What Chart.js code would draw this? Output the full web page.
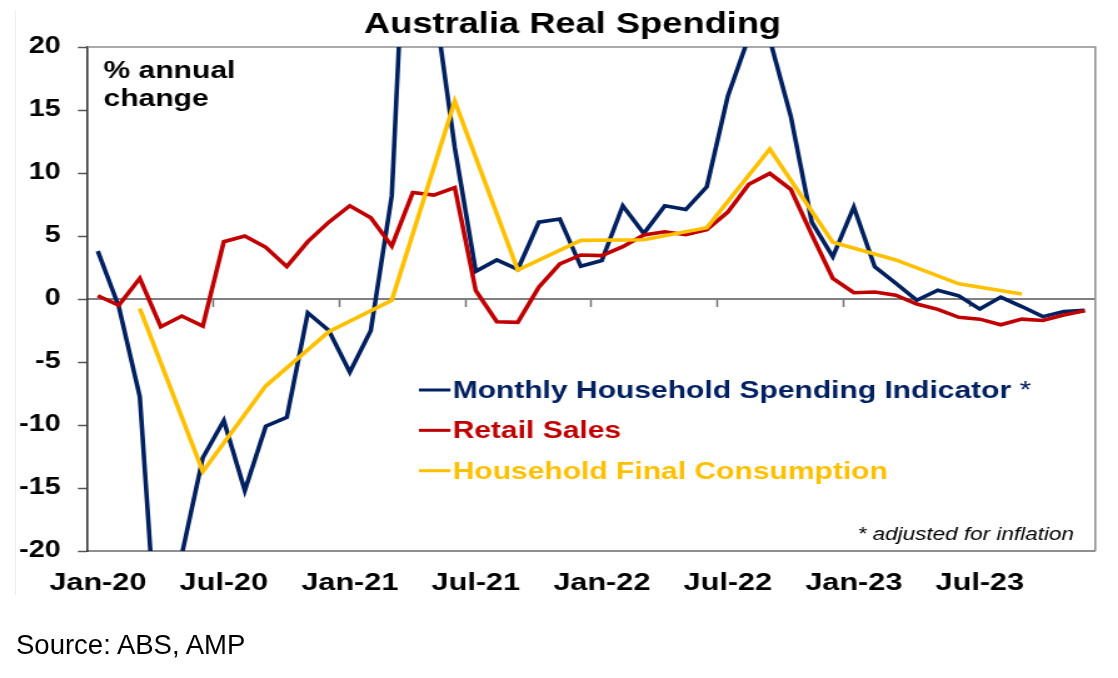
<!doctype html>
<html>

<head>
    <meta charset="utf-8">
    <title>Australia Real Spending</title>
    <script src="https://cdn.jsdelivr.net/npm/chart.js"></script>
    <style>
        html, body { margin: 0; padding: 0; background: #fff; }
        body { width: 1118px; height: 678px; position: relative; overflow: hidden; font-family: "Liberation Sans", Arial, sans-serif; }
        /* the reference is a horizontally stretched image, so the canvas is stretched the same way */
        #grafico { position: absolute; left: 0; top: 0; transform-origin: 0 0; transform: scaleX(1.2506); }
        #borda { position: absolute; left: 15px; top: 10px; height: 585px; border-left: 1px solid #eeeeee; }
        #fonte { position: absolute; left: 16px; top: 631px; font-size: 27.5px; line-height: 1; color: #000; }
    </style>
</head>

<body>

    <canvas id="grafico" width="894" height="678"></canvas>
    <div id="borda"></div>
    <div id="fonte">Source: ABS, AMP</div>

    <script>
        var months = [
            'Jan-20', 'Feb-20', 'Mar-20', 'Apr-20', 'May-20', 'Jun-20', 'Jul-20', 'Aug-20', 'Sep-20', 'Oct-20', 'Nov-20', 'Dec-20',
            'Jan-21', 'Feb-21', 'Mar-21', 'Apr-21', 'May-21', 'Jun-21', 'Jul-21', 'Aug-21', 'Sep-21', 'Oct-21', 'Nov-21', 'Dec-21',
            'Jan-22', 'Feb-22', 'Mar-22', 'Apr-22', 'May-22', 'Jun-22', 'Jul-22', 'Aug-22', 'Sep-22', 'Oct-22', 'Nov-22', 'Dec-22',
            'Jan-23', 'Feb-23', 'Mar-23', 'Apr-23', 'May-23', 'Jun-23', 'Jul-23', 'Aug-23', 'Sep-23', 'Oct-23', 'Nov-23', 'Dec-23'
        ];
        var axisLabels = ['Jan-20', 'Jul-20', 'Jan-21', 'Jul-21', 'Jan-22', 'Jul-22', 'Jan-23', 'Jul-23'];

        // % annual change
        var spendingIndicator = [
            3.8, -0.6, -7.75, -32, -20.3, -12.6, -9.65, -15.2, -10.1, -9.4, -1.1, -2.5,
            -5.8, -2.5, 8.2, 43.5, 24, 12, 2.2, 3.1, 2.35, 6.1, 6.35, 2.6,
            3.05, 7.4, 5.2, 7.4, 7.1, 8.9, 16.1, 20.8, 20.6, 14.5, 6.1, 3.35,
            7.3, 2.55, 1.25, -0.1, 0.7, 0.25, -0.8, 0.15, -0.6, -1.4, -1.0, -0.9
        ];
        var retailSales = [
            0.26, -0.5, 1.64, -2.2, -1.35, -2.15, 4.55, 5.0, 4.1, 2.57, 4.55, 6.1,
            7.4, 6.45, 4.2, 8.45, 8.25, 8.85, 0.66, -1.8, -1.85, 0.93, 2.78, 3.49,
            3.44, 4.15, 5.08, 5.34, 5.1, 5.5, 6.9, 9.1, 9.97, 8.7, 5.1, 1.64,
            0.5, 0.56, 0.3, -0.4, -0.82, -1.45, -1.6, -2.05, -1.6, -1.7, -1.27, -0.93
        ];
        // quarterly, placed on the last month of each quarter
        var finalConsumption = [
            null, null, -0.75, null, null, -13.7, null, null, -6.9, null, null, -2.6,
            null, null, -0.1, null, null, 15.7, null, null, 2.3, null, null, 4.65,
            null, null, 4.7, null, null, 5.66, null, null, 11.9, null, null, 4.5,
            null, null, 3.1, null, null, 1.2, null, null, 0.4, null, null, null
        ];

        var fonte = '"Liberation Sans", Arial, sans-serif';

        var moldura = {
            id: 'moldura',
            beforeDatasetsDraw: function (chart) {
                var ctx = chart.ctx, area = chart.chartArea;
                ctx.save();
                ctx.strokeStyle = '#8f8f8f';
                ctx.lineWidth = 1.6;
                ctx.beginPath();
                ctx.moveTo(area.left, area.top);
                ctx.lineTo(area.right, area.top);
                ctx.lineTo(area.right, area.bottom);
                ctx.stroke();
                ctx.restore();
            }
        };

        var textos = {
            id: 'textos',
            afterDraw: function (chart) {
                var ctx = chart.ctx;
                ctx.save();
                ctx.fillStyle = '#000';
                ctx.textBaseline = 'alphabetic';

                ctx.font = 'bold 29px ' + fonte;
                ctx.textAlign = 'center';
                ctx.fillText('Australia Real Spending', 457.8, 33);

                ctx.textAlign = 'left';
                ctx.font = 'bold 24px ' + fonte;
                ctx.fillText('% annual', 82.8, 78);
                ctx.fillText('change', 82.8, 106);

                ctx.font = 'italic 18px ' + fonte;
                ctx.textAlign = 'right';
                ctx.fillText('* adjusted for inflation', 858.8, 540);

                // legend inside the plot
                ctx.textAlign = 'left';
                chart.data.datasets.forEach(function (ds, i) {
                    var y = 390 + i * 40.35;
                    ctx.strokeStyle = ds.borderColor;
                    ctx.lineWidth = 3;
                    ctx.beginPath();
                    ctx.moveTo(335, y);
                    ctx.lineTo(360.2, y);
                    ctx.stroke();

                    ctx.fillStyle = ds.borderColor;
                    var texto = ds.label, nota = '';
                    if (texto.slice(-2) == ' *') {
                        nota = ' *';
                        texto = texto.slice(0, -2);
                    }
                    ctx.font = 'bold 24px ' + fonte;
                    ctx.fillText(texto, 361.9, y + 7.8);
                    if (nota) {
                        var w = ctx.measureText(texto).width;
                        ctx.font = '24px ' + fonte;
                        ctx.fillText(nota, 361.9 + w, y + 7.8);
                    }
                });
                ctx.restore();
            }
        };

        var Grafico = new Chart(document.getElementById('grafico').getContext('2d'), {
            type: 'line',
            data: {
                labels: months,
                datasets: [{
                    label: 'Monthly Household Spending Indicator *',
                    borderColor: '#002060',
                    data: spendingIndicator,
                    order: 3
                }, {
                    label: 'Retail Sales',
                    borderColor: '#C00000',
                    data: retailSales,
                    order: 2
                }, {
                    label: 'Household Final Consumption',
                    borderColor: '#FFC000',
                    data: finalConsumption,
                    spanGaps: true,
                    order: 1
                }]
            },
            options: {
                responsive: false,
                animation: false,
                clip: 0,
                layout: {
                    padding: { top: 47, right: 18.2, bottom: 77, left: 0 }
                },
                elements: {
                    line: { borderWidth: 3.6, tension: 0, fill: false },
                    point: { radius: 0, hoverRadius: 0 }
                },
                plugins: {
                    legend: { display: false },
                    title: { display: false },
                    tooltip: { enabled: false }
                },
                scales: {
                    x: {
                        offset: true,
                        grid: { drawOnChartArea: false, drawTicks: false },
                        border: { color: '#8f8f8f', width: 2 },
                        ticks: {
                            autoSkip: false,
                            maxRotation: 0,
                            minRotation: 0,
                            padding: 17.5,
                            color: '#000',
                            font: { family: fonte, size: 24.5, weight: 'bold' },
                            callback: function (value, index) {
                                var r = months[index];
                                return axisLabels.indexOf(r) >= 0 ? r : '';
                            }
                        },
                        afterFit: function (scale) { scale.height = 50; }
                    },
                    xZero: {
                        type: 'category',
                        axis: 'x',
                        position: { y: 0 },
                        offset: true,
                        grid: {
                            drawOnChartArea: false,
                            drawTicks: true,
                            offset: true,
                            tickLength: 7,
                            tickWidth: 1.5,
                            tickColor: function (c) {
                                return (c.index > 0 && c.index % 6 == 0) ? '#707070' : 'rgba(0,0,0,0)';
                            }
                        },
                        border: { color: '#808080', width: 2 },
                        ticks: { display: false }
                    },
                    y: {
                        min: -20,
                        max: 20,
                        ticks: {
                            stepSize: 5,
                            padding: 13.8,
                            color: '#000',
                            font: { family: fonte, size: 23, weight: 'bold' }
                        },
                        grid: { drawOnChartArea: false, tickLength: 7.5, tickColor: '#555', tickWidth: 1.5 },
                        border: { color: '#333', width: 1.6 },
                        afterFit: function (scale) { scale.width = 69.8; }
                    }
                }
            },
            plugins: [moldura, textos]
        });
    </script>
</body>

</html>
